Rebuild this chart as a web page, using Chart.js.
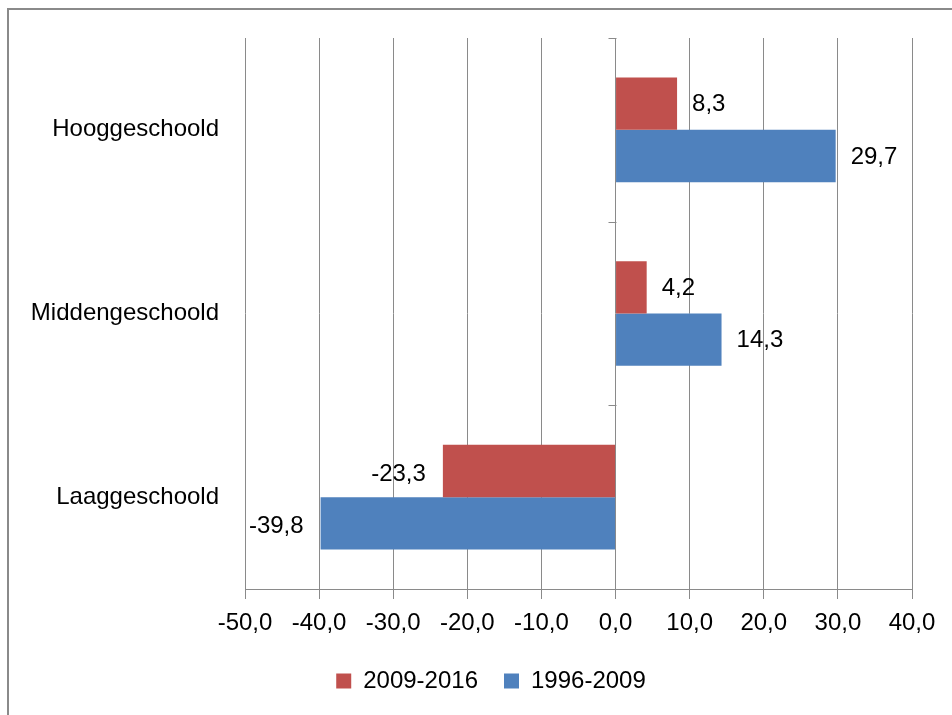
<!DOCTYPE html>
<html>
<head>
<meta charset="utf-8">
<script src="https://cdn.jsdelivr.net/npm/chart.js@4"></script>
<style>
  body { margin: 0; background: #fff; }
  #wrap { position: relative; width: 952px; height: 715px; }
  #frame { position: absolute; left: 7px; top: 8px; right: 0; bottom: 0;
           border-top: 2px solid #8a8a8a; border-left: 2px solid #8a8a8a; }
  canvas { position: absolute; left: 0; top: 0; }
</style>
</head>
<body>
<div id="wrap">
  <div id="frame"></div>
  <canvas id="myChart" width="952" height="715"></canvas>
</div>
<script>
const categories = ['Hooggeschoold', 'Middengeschoold', 'Laaggeschoold']
const series2009_2016 = [8.3, 4.2, -23.3]
const series1996_2009 = [29.7, 14.3, -39.8]
const seriesNames = ['2009-2016', '1996-2009']
const axisMin = -50
const axisMax = 40
const axisStep = 10

const FONT = 'Liberation Sans'
const comma = (v) => v.toFixed(1).replace('.', ',')

// value labels next to the bar ends
const barLabels = {
  id: 'barLabels',
  afterDatasetsDraw(chart) {
    const ctx = chart.ctx
    ctx.save()
    ctx.font = '24px "' + FONT + '"'
    ctx.fillStyle = '#000'
    ctx.textBaseline = 'middle'
    chart.data.datasets.forEach((ds, i) => {
      chart.getDatasetMeta(i).data.forEach((bar, j) => {
        const v = ds.data[j]
        if (v >= 0) {
          ctx.textAlign = 'left'
          ctx.fillText(comma(v), bar.x + 15, bar.y + 1)
        } else {
          ctx.textAlign = 'right'
          ctx.fillText(comma(v), bar.x - 17, bar.y + 3)
        }
      })
    })
    ctx.restore()
  }
}

// small tick marks on the vertical axis at 0
const zeroAxisTicks = {
  id: 'zeroAxisTicks',
  afterDraw(chart) {
    const x = chart.scales.x
    const y = chart.scales.y
    const ctx = chart.ctx
    const x0 = Math.round(x.getPixelForValue(0)) + 0.5
    ctx.save()
    ctx.strokeStyle = '#8a8a8a'
    ctx.lineWidth = 1
    for (let i = 0; i <= categories.length; i++) {
      const py = Math.round(y.getPixelForValue(i - 0.5)) + 0.5
      ctx.beginPath()
      ctx.moveTo(x0 - 8, py)
      ctx.lineTo(x0, py)
      ctx.stroke()
    }
    ctx.restore()
  }
}

new Chart(document.getElementById('myChart'), {
  type: 'bar',
  data: {
    labels: categories,
    datasets: [
      {
        label: seriesNames[0],
        data: series2009_2016,
        backgroundColor: '#C0504D',
        categoryPercentage: 0.57,
        barPercentage: 1
      },
      {
        label: seriesNames[1],
        data: series1996_2009,
        backgroundColor: '#4F81BD',
        categoryPercentage: 0.57,
        barPercentage: 1
      }
    ]
  },
  options: {
    indexAxis: 'y',
    responsive: false,
    animation: false,
    layout: { padding: { top: 38, right: 0, bottom: 12, left: 30 } },
    scales: {
      x: {
        min: axisMin,
        max: axisMax,
        ticks: {
          stepSize: axisStep,
          padding: 10,
          color: '#000',
          font: { family: FONT, size: 24 },
          callback: (v) => comma(v)
        },
        grid: { color: '#8a8a8a', tickLength: 10, lineWidth: 1 },
        border: { color: '#8a8a8a' },
        afterFit: (s) => { s.height = 54 }
      },
      y: {
        ticks: {
          padding: 18,
          color: '#000',
          font: { family: FONT, size: 24 }
        },
        grid: { display: false },
        border: { display: false },
        afterFit: (s) => { s.width = 215 }
      },
      // empty right axis, only keeps room on the right of the plot
      yRight: {
        type: 'category',
        position: 'right',
        ticks: { display: false },
        grid: { display: false },
        border: { display: false },
        afterFit: (s) => { s.width = 40 }
      }
    },
    plugins: {
      legend: {
        position: 'bottom',
        labels: {
          boxWidth: 15,
          boxHeight: 15,
          padding: 26,
          color: '#000',
          font: { family: FONT, size: 24 }
        }
      },
      tooltip: { enabled: false }
    }
  },
  plugins: [barLabels, zeroAxisTicks]
})
</script>
</body>
</html>
